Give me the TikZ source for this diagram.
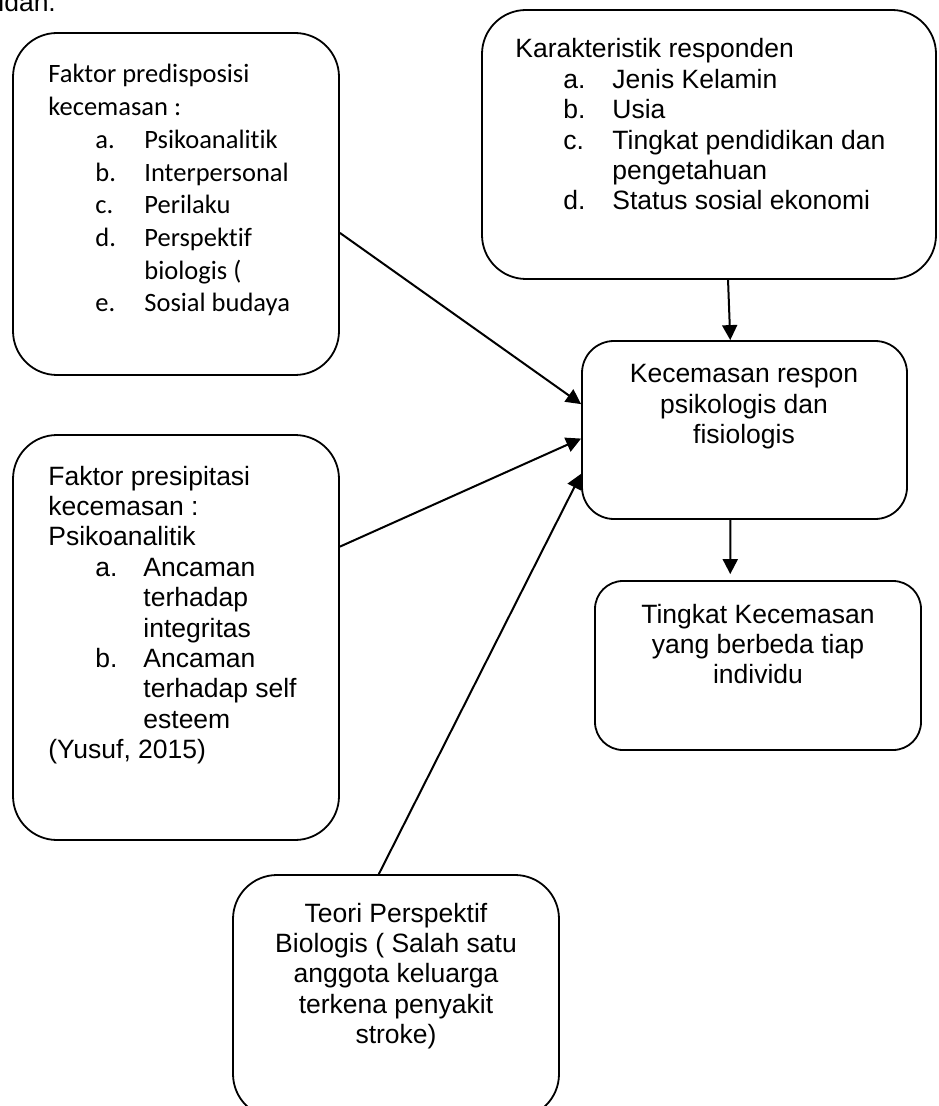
\documentclass[tikz,border=0pt]{standalone}
\usepackage{fontspec}
\setmainfont{Liberation Sans}
\newfontfamily\calibri[Ligatures=NoCommon]{Carlito}
\usetikzlibrary{arrows.meta, calc}

\tikzset{
  kotak/.style={draw, line width=0.9pt, rounded corners=#1, inner sep=0pt},
  kotak/.default=20pt,
  panah/.style={-{Triangle[length=7.5pt,width=7.5pt]}, line width=1pt},
  teks/.style={inner sep=0pt, font=\fontsize{13.25}{15.2}\selectfont},
}

\begin{document}
\begin{tikzpicture}[x=0.5pt, y=-0.5pt]
\useasboundingbox (0,0) rectangle (938,1106);
\clip (0,0) rectangle (938,1106);

%the boxes
\node[kotak=22pt, minimum width=163pt, minimum height=171pt] (pred) at (176,204) {};
\node[kotak=22pt, minimum width=227pt, minimum height=134.5pt] (karak) at (709,144.5) {};
\node[kotak=16pt, minimum width=162.5pt, minimum height=89pt] (resp) at (744.5,430) {};
\node[kotak=14pt, minimum width=163pt, minimum height=84.5pt] (tingkat) at (758,665.5) {};
\node[kotak=22pt, minimum width=163pt, minimum height=202.5pt] (presip) at (176,637.5) {};
\node[kotak=22pt, minimum width=163pt, minimum height=121.5pt] (teori) at (396,996.5) {};

%the texts
\node[teks, anchor=base west] (idan) at (-2,12) {idan.};

\node[teks, anchor=base west, font=\calibri\fontsize{13.25}{16.35}\selectfont] (predtxt) at (48,83) {%
\begin{tabular}[t]{@{\hspace{23.5pt}}p{24.5pt}@{}l@{}}
\multicolumn{2}{@{}l@{}}{Faktor predisposisi}\\
\multicolumn{2}{@{}l@{}}{kecemasan :}\\
a. & Psikoanalitik\\
b. & Interpersonal\\
c. & Perilaku\\
d. & Perspektif\\
   & biologis (\\
e. & Sosial budaya
\end{tabular}};

\node[teks, anchor=base west] (karaktxt) at (515,58) {%
\begin{tabular}[t]{@{\hspace{24pt}}p{24.5pt}@{}l@{}}
\multicolumn{2}{@{}l@{}}{Karakteristik responden}\\
a. & Jenis Kelamin\\
b. & Usia\\
c. & Tingkat pendidikan dan\\
   & pengetahuan\\
d. & Status sosial ekonomi
\end{tabular}};

\node[teks, anchor=base] (resptxt) at (744,383) {%
\begin{tabular}[t]{@{}c@{}}
Kecemasan respon\\
psikologis dan\\
fisiologis
\end{tabular}};

\node[teks, anchor=base] (tingkattxt) at (758,623) {%
\begin{tabular}[t]{@{}c@{}}
Tingkat Kecemasan\\
yang berbeda tiap\\
individu
\end{tabular}};

\node[teks, anchor=base west] (presiptxt) at (48,485) {%
\begin{tabular}[t]{@{\hspace{23.5pt}}p{24pt}@{}l@{}}
\multicolumn{2}{@{}l@{}}{Faktor presipitasi}\\
\multicolumn{2}{@{}l@{}}{kecemasan :}\\
\multicolumn{2}{@{}l@{}}{Psikoanalitik}\\
a. & Ancaman\\
   & terhadap\\
   & integritas\\
b. & Ancaman\\
   & terhadap self\\
   & esteem\\
\multicolumn{2}{@{}l@{}}{(Yusuf, 2015)}
\end{tabular}};

\node[teks, anchor=base] (teoritxt) at (396,922) {%
\begin{tabular}[t]{@{}c@{}}
Teori Perspektif\\
Biologis ( Salah satu\\
anggota keluarga\\
terkena penyakit\\
stroke)
\end{tabular}};

%the arrows
\draw[panah] (pred.-10.8) -- (resp.171.3);
\draw[panah] (presip.29.6) -- (resp.-177.2);
\draw[panah] (teori.98) -- (resp.-165.5);
\draw[panah] (karak.-82) -- (resp.99.25);
\draw[panah, shorten >=3pt] (resp.-99.9) -- (tingkat.108.9);
\end{tikzpicture}
\end{document}
